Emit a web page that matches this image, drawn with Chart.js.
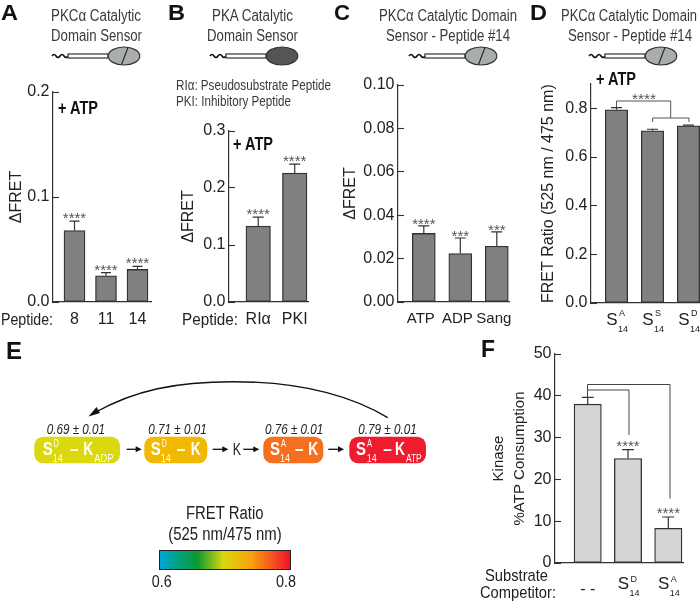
<!DOCTYPE html>
<html><head><meta charset="utf-8">
<script src="https://cdn.jsdelivr.net/npm/chart.js@4"></script>
<style>
html,body{margin:0;padding:0;background:#fff;}
#stage{position:relative;width:700px;height:602px;overflow:hidden;background:#fff;filter:blur(0.4px);}
canvas{position:absolute;}
svg{position:absolute;left:0;top:0;}
</style></head><body><div id="stage"></div>
<script>
// ---- data ----
const catsA = ['8','11','14'];
const valsA = [0.068,0.025,0.031];
const errsA = [0.009,0.003,0.003];
const starsA = ['****','****','****'];
const ticksA = [0,0.1,0.2];

const catsB = ['RIα','PKI'];
const valsB = [0.133,0.226];
const errsB = [0.016,0.016];
const starsB = ['****','****'];
const ticksB = [0,0.1,0.2,0.3];

const catsC = ['ATP','ADP','Sang'];
const valsC = [0.0316,0.0223,0.0257];
const errsC = [0.0035,0.0072,0.0066];
const starsC = ['****','***','***'];
const ticksC = [0,0.02,0.04,0.06,0.08,0.10];

const catsD = ['S|A|14','S|S|14','S|D|14'];
const valsD = [0.794,0.708,0.728];
const errsD = [0.009,0.006,0.003];
const starsD = ['','',''];
const ticksD = [0,0.2,0.4,0.6,0.8];

const catsF = ['- -','S|D|14','S|A|14'];
const valsF = [38,25,8.3];
const errsF = [1.6,2.1,2.7];
const starsF = ['','****','****'];
const ticksF = [0,10,20,30,40,50];

// ---- helpers ----
const SANS = '"Liberation Sans",Arial,sans-serif';
const INK = '#333';
Chart.defaults.animation = false;
const stage = document.getElementById('stage');

const marksPlugin = {
  id:'marks',
  afterDatasetsDraw(chart,args,o){
    const {ctx,scales:{x,y}} = chart;
    ctx.save();
    o.vals.forEach((v,i)=>{
      const px = x.getPixelForValue(i), top = y.getPixelForValue(v+o.errs[i]), base = y.getPixelForValue(v);
      ctx.strokeStyle = INK; ctx.lineWidth = 1.2;
      ctx.beginPath(); ctx.moveTo(px,base); ctx.lineTo(px,top);
      ctx.moveTo(px-o.cap/2,top); ctx.lineTo(px+o.cap/2,top); ctx.stroke();
      if(o.stars[i]){
        ctx.fillStyle='#555'; ctx.font='15px '+SANS; ctx.textAlign='center'; ctx.textBaseline='alphabetic';
        ctx.fillText(o.stars[i],px,top+o.starDy);
      }
    });
    o.cats.forEach((c,i)=>{
      if(!c.includes('|')) return;
      const [b,sup,sub] = c.split('|');
      const px = x.getPixelForValue(i), yb = y.bottom;
      ctx.fillStyle='#222'; ctx.textBaseline='alphabetic';
      ctx.textAlign='right'; ctx.font='17px '+SANS; ctx.fillText(b,px+1,yb+o.comp[0]);
      ctx.textAlign='left'; ctx.font='9px '+SANS;
      ctx.fillText(sup,px+2.5,yb+o.comp[1]);
      ctx.fillText(sub,px+1.5,yb+o.comp[2]);
    });
    ctx.restore();
  }
};

function panel(c){
  const cv = document.createElement('canvas');
  const cw = c.W + (c.R-c.L) + 8, topPad = 12, ch = topPad + (c.B-c.T) + c.H;
  cv.width = cw; cv.height = ch;
  cv.style.left = (c.L-c.W)+'px'; cv.style.top = (c.T-topPad)+'px';
  stage.appendChild(cv);
  new Chart(cv,{
    type:'bar',
    data:{datasets:[{data:c.vals.map((v,i)=>({x:i,y:v})),backgroundColor:c.fill,borderColor:INK,borderWidth:1.3,borderSkipped:false,barThickness:c.bw}]},
    plugins:[marksPlugin],
    options:{
      responsive:false,
      layout:{autoPadding:false,padding:{top:topPad,right:8,left:0,bottom:0}},
      plugins:{legend:{display:false},tooltip:{enabled:false},marks:{vals:c.vals,errs:c.errs,stars:c.stars,cats:c.cats,cap:c.cap,starDy:c.starDy,comp:c.comp}},
      scales:{
        x:{type:'linear',offset:false,min:(c.L-c.c0)/c.step,max:(c.R-c.c0)/c.step,
          afterBuildTicks:s=>{s.ticks=c.cats.map((_,i)=>({value:i}));},
          afterFit:s=>{s.height=c.H;s.paddingLeft=0;s.paddingRight=0;},
          grid:{display:false,drawTicks:false},
          border:{display:true,color:INK,width:1.2},
          ticks:{autoSkip:false,maxRotation:0,padding:c.xpad,color:'#222',labelOffset:c.lo||0,
            font:{family:SANS,size:c.xSize||16},
            callback:(v)=>{const t=c.cats[v];return t&&!t.includes('|')?t:'';}}},
        y:{min:c.ymin,max:c.ymax,
          afterBuildTicks:s=>{s.ticks=c.yt.map(v=>({value:v}));},
          afterFit:s=>{s.width=c.W;s.paddingTop=0;s.paddingBottom=0;},
          title:{display:true,text:c.title,align:c.tAlign||'center',color:'#222',padding:{top:0,bottom:0},font:{family:SANS,size:c.tSize||16,lineHeight:c.tLH||1.2}},
          grid:{drawOnChartArea:false,drawTicks:true,tickLength:-6,tickColor:INK,tickWidth:1.1},
          border:{display:true,color:INK,width:1.2},
          ticks:{padding:9.5,color:'#222',includeBounds:false,font:{family:SANS,size:16},
            callback:v=>v.toFixed(c.dec)}}
      }
    }
  });
}

panel({L:53,R:151,T:92,B:302,W:46,H:30,xpad:8,ymin:0,ymax:0.2,yt:ticksA,dec:1,cats:catsA,vals:valsA,errs:errsA,stars:starsA,c0:74.5,step:31.5,bw:21,cap:10,fill:'#808080',title:'ΔFRET',starDy:2});
panel({L:229,R:308,T:131,B:302,W:50,H:30,xpad:8,ymin:0,ymax:0.3,yt:ticksB,dec:1,cats:catsB,vals:valsB,errs:errsB,stars:starsB,c0:258.2,step:36.5,bw:24.5,cap:11,fill:'#808080',title:'ΔFRET',starDy:2});
panel({L:398,R:509,T:85,B:302,W:57,H:30,xpad:8,xSize:15,lo:-3,ymin:0,ymax:0.1,yt:ticksC,dec:2,cats:catsC,vals:valsC,errs:errsC,stars:starsC,c0:423.8,step:36.5,bw:23,cap:11,fill:'#808080',title:'ΔFRET',starDy:3});
panel({L:591,R:700,T:84,B:303,W:52,H:32,xpad:8,ymin:0,ymax:0.9,yt:ticksD,dec:1,cats:catsD,vals:valsD,errs:errsD,stars:starsD,c0:616.5,step:36,bw:22.4,cap:11,fill:'#808080',title:'FRET Ratio (525 nm / 475 nm)',tAlign:'start',starDy:2,comp:[22,13,29]});
panel({L:555,R:683,T:354,B:563,W:67,H:38,xpad:17,ymin:0,ymax:50,yt:ticksF,dec:0,cats:catsF,vals:valsF,errs:errsF,stars:starsF,c0:587.7,step:40.3,bw:27.3,cap:12,fill:'#d4d6d6',title:['Kinase','%ATP Consumption'],tSize:15,tLH:1.4,starDy:1,comp:[26,19,33]});

// ---- overlay: annotations, schematics, panel E ----
const NS='http://www.w3.org/2000/svg';
const svg=document.createElementNS(NS,'svg');
svg.setAttribute('width',700);svg.setAttribute('height',602);
stage.appendChild(svg);
function el(n,a,p){const e=document.createElementNS(NS,n);for(const k in a)e.setAttribute(k,a[k]);(p||svg).appendChild(e);return e;}
function T(s,x1,x2,base,size,o={}){
  const e=el('text',{x:x1,y:base,'font-family':SANS,'font-size':size,fill:o.fill||'#3a3a3a',
    'font-weight':o.bold?'bold':'normal','font-style':o.it?'italic':'normal'});
  if(x2){e.setAttribute('textLength',x2-x1);e.setAttribute('lengthAdjust','spacingAndGlyphs');}
  e.textContent=s;return e;
}
// panel letters
T('A',1,18,20,22,{bold:1,fill:'#111'});T('B',168,185,20,22,{bold:1,fill:'#111'});
T('C',334,350,20,22,{bold:1,fill:'#111'});T('D',530,547,20,22,{bold:1,fill:'#111'});
T('E',6,22,359,23,{bold:1,fill:'#111'});T('F',481,495,356.5,23,{bold:1,fill:'#111'});
// titles
T('PKCα Catalytic',51,141,21,16);T('Domain Sensor',51,142,41,16);
T('PKA Catalytic',212,293,21,16);T('Domain Sensor',207,298,41,16);
T('RIα: Pseudosubstrate Peptide',176,331,90,14);T('PKI: Inhibitory Peptide',176,291,106,14);
T('PKCα Catalytic Domain',379,517,21,16);T('Sensor - Peptide #14',386,510,40.5,16);
T('PKCα Catalytic Domain',561,697,21,16);T('Sensor - Peptide #14',568,692,40.5,16);
// + ATP
T('+ ATP',58,98,114,18,{bold:1,fill:'#111'});T('+ ATP',233,273,150,18,{bold:1,fill:'#111'});T('+ ATP',596,636,85,18,{bold:1,fill:'#111'});
// peptide
T('Peptide:',1,53,325,17,{fill:'#222'});T('Peptide:',182,238,325,17,{fill:'#222'});
T('Substrate',485,548,581,17,{fill:'#222'});T('Competitor:',480,556,598,17,{fill:'#222'});
// sensors
function sensor(x,dark){
  const y=56;
  el('path',{d:`M${x} ${y}q2 -3 4 0t4 0t4 0t4 0`,fill:'none',stroke:'#111','stroke-width':1.6});
  el('rect',{x:x+16,y:y-2,width:40,height:4,fill:'#fff',stroke:'#333','stroke-width':1.2});
  el('ellipse',{cx:x+72,cy:y,rx:15.8,ry:9,fill:dark?'#555':'#a9adad',stroke:'#333','stroke-width':1.2});
  if(!dark) el('line',{x1:x+76,y1:y-8.5,x2:x+69.5,y2:y+8.5,stroke:'#222','stroke-width':1.1});
}
sensor(52,false);sensor(210,true);sensor(409,false);sensor(589,false);
// brackets
el('path',{d:'M616.5 107V101H670.7V118M652.7 122V118H689V122',fill:'none',stroke:'#555','stroke-width':1});
T('****',632,656,104,15,{fill:'#555'});
el('path',{d:'M587.5 397V384.5H670V498.5M587.5 390H629V435',fill:'none',stroke:'#444','stroke-width':1});
// E boxes
const boxes=[[34.3,120,'#dcd80e'],[144.3,207.3,'#f3b800'],[263.3,323.3,'#f4701e'],[349.3,426,'#ee1c2e']];
boxes.forEach(b=>el('rect',{x:b[0],y:436.7,width:b[1]-b[0],height:26.6,rx:9,ry:9,fill:b[2]}));
const W='#fff';
function sk(xS,sup,xSub,xDash,xK,xEnd,subTail){
  T('S',xS,xS+10,455,19,{bold:1,fill:W});
  T(sup,xS+11,xS+16,447,10,{fill:W});
  T('14',xSub,xSub+10,462,11,{fill:W});
  T('–',xDash,xDash+8.5,455,19,{bold:1,fill:W});
  T('K',xK,xK+10,455,19,{bold:1,fill:W});
  if(subTail)T(subTail,xK+11,xEnd,462,11,{fill:W});
}
sk(42.7,'D',52.7,70,83.3,113.3,'ADP');
sk(150.7,'D',160.7,176.7,190.7,0,'');
sk(270,'A',280,295,308.3,0,'');
sk(356,'A',366.7,383.3,395,421.7,'ATP');
[['0.69 ± 0.01',46.7,105],['0.71 ± 0.01',148.3,206.7],['0.76 ± 0.01',265,323.3],['0.79 ± 0.01',358.3,416.7]]
  .forEach(t=>T(t[0],t[1],t[2],433.5,15,{it:1,fill:'#222'}));
// arrows
function arrow(x1,x2,y){
  el('line',{x1,y1:y,x2:x2-5,y2:y,stroke:'#111','stroke-width':1.3});
  el('path',{d:`M${x2} ${y}l-6 -3v6z`,fill:'#111'});
}
arrow(126.7,141.7,449.3);arrow(212.7,228.3,449.3);arrow(243.3,259.3,449.3);arrow(328.3,344,449.3);
T('K',232.7,241,455,16,{fill:'#222'});
el('path',{d:'M387.7 417.7C345 392 290 381.7 233 381.7S135 390 94 413',fill:'none',stroke:'#111','stroke-width':1.4});
el('path',{d:'M88.5 416.5L100 413L96.500 407z',fill:'#111'});
// colour scale
const defs=el('defs',{});
const g=el('linearGradient',{id:'fret',x1:0,x2:1,y1:0,y2:0},defs);
[[0,'#00a8dc'],[0.12,'#00a28a'],[0.29,'#0a9a32'],[0.49,'#dcd80e'],[0.7,'#f9a010'],[0.85,'#f45a20'],[1,'#f0102a']]
  .forEach(s=>el('stop',{offset:s[0],'stop-color':s[1]},g));
el('rect',{x:159.5,y:550.5,width:131,height:19,fill:'url(#fret)',stroke:'#222','stroke-width':1});
T('FRET Ratio',186,263.5,519,18,{fill:'#222'});
T('(525 nm/475 nm)',168.3,281.7,540,18,{fill:'#222'});
T('0.6',151.7,171.7,587,17,{fill:'#222'});T('0.8',276,296,587,17,{fill:'#222'});
</script></body></html>
